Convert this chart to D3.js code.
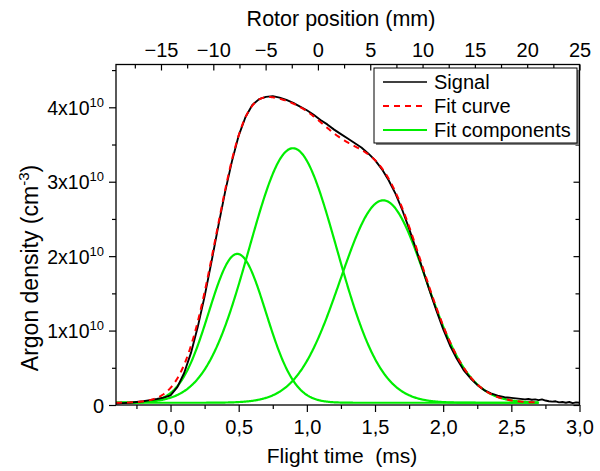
<!DOCTYPE html>
<html>
<head>
<meta charset="utf-8">
<script src="https://cdn.jsdelivr.net/npm/d3@7"></script>
<style>
  body { margin: 0; background: #fff; }
  text { font-family: "Liberation Sans", Arial, sans-serif; fill: #000; }
</style>
</head>
<body>
<svg id="chart" width="600" height="471"></svg>
<script>
// Measured argon density (units of 1e10 cm^-3) against flight time (ms)
const signalTime = [
  -0.40, -0.35, -0.30, -0.25, -0.20, -0.15, -0.10, -0.05, 0.00, 0.05,
  0.10, 0.15, 0.20, 0.25, 0.30, 0.35, 0.40, 0.45, 0.50, 0.55,
  0.60, 0.65, 0.70, 0.75, 0.80, 0.85, 0.90, 0.95, 1.00, 1.05,
  1.10, 1.15, 1.20, 1.25, 1.30, 1.35, 1.40, 1.45, 1.50, 1.55,
  1.60, 1.65, 1.70, 1.75, 1.80, 1.85, 1.90, 1.95, 2.00, 2.05,
  2.10, 2.15, 2.20, 2.25, 2.30, 2.35, 2.40, 2.45, 2.50, 2.55,
  2.60, 2.625, 2.65, 2.675, 2.70, 2.725, 2.75, 2.775, 2.80, 2.825,
  2.85, 2.875, 2.90, 2.925, 2.95, 2.975, 3.00
];
const signalDensity = [
  0.02, 0.025, 0.03, 0.04, 0.05, 0.065, 0.08, 0.10, 0.13, 0.24,
  0.43, 0.70, 1.05, 1.46, 1.92, 2.40, 2.86, 3.27, 3.62, 3.87,
  4.03, 4.11, 4.14, 4.15, 4.13, 4.10, 4.06, 4.01, 3.96, 3.90,
  3.83, 3.77, 3.70, 3.64, 3.58, 3.52, 3.46, 3.38, 3.29, 3.17,
  3.02, 2.84, 2.62, 2.37, 2.10, 1.82, 1.54, 1.27, 1.02, 0.80,
  0.62, 0.47, 0.36, 0.27, 0.20, 0.155, 0.125, 0.105, 0.095, 0.085,
  0.075, 0.08, 0.07, 0.075, 0.065, 0.075, 0.06, 0.05, 0.045, 0.05,
  0.035, 0.04, 0.03, 0.04, 0.025, 0.035, 0.03
];

// Gaussian fit: constant offset plus three components
const fitOffset = 0.03;
const peakCenters = [0.49, 0.898, 1.56];
const peakWidths = [0.21, 0.321, 0.315];
const peakHeights = [2.0, 3.42, 2.72];
const fitRange = [-0.4, 2.7];

const timeTicks = [0, 0.5, 1.0, 1.5, 2.0, 2.5, 3.0];
const timeMinorTicks = [-0.25, 0.25, 0.75, 1.25, 1.75, 2.25, 2.75];
const densityTicks = [0, 1, 2, 3, 4];
const densityMinorTicks = [0.5, 1.5, 2.5, 3.5, 4.5];
const rotorTicks = [-15, -10, -5, 0, 5, 10, 15, 20, 25];
const rotorMinorTicks = [-17.5, -12.5, -7.5, -2.5, 2.5, 7.5, 12.5, 17.5, 22.5];
const legendLabels = ["Signal", "Fit curve", "Fit components"];

const svg = d3.select("#chart");
const plot = { left: 116, right: 579.5, top: 64.5, bottom: 405 };

const x = d3.scaleLinear().domain([-0.4, 3.0]).range([plot.left, plot.right]);
const xTop = d3.scaleLinear().domain([-19.3, 25]).range([plot.left, plot.right]);
const y = d3.scaleLinear().domain([0, 4.575]).range([plot.bottom, plot.top]);

const green = "#00ee00";
const gauss = (t, i) => peakHeights[i] * Math.exp(-((t - peakCenters[i]) ** 2) / (2 * peakWidths[i] ** 2));
const grid = d3.range(fitRange[0], fitRange[1] + 1e-9, 0.005);

svg.append("clipPath").attr("id", "plotClip").append("rect")
  .attr("x", plot.left).attr("y", plot.top)
  .attr("width", plot.right - plot.left).attr("height", plot.bottom - plot.top);

const curves = svg.append("g").attr("clip-path", "url(#plotClip)");
const line = d3.line().x(d => x(d[0])).y(d => y(d[1]));

// fit components
peakCenters.forEach((c, i) => {
  curves.append("path")
    .datum(grid.map(t => [t, fitOffset + gauss(t, i)]))
    .attr("fill", "none").attr("stroke", green).attr("stroke-width", 2.2)
    .attr("d", line);
});

// measured signal
curves.append("path")
  .datum(signalTime.map((t, i) => [t, signalDensity[i]]))
  .attr("fill", "none").attr("stroke", "#000").attr("stroke-width", 1.9)
  .attr("stroke-linejoin", "round")
  .attr("d", line);

// total fit
curves.append("path")
  .datum(grid.map(t => [t, fitOffset + peakCenters.reduce((s, c, i) => s + gauss(t, i), 0)]))
  .attr("fill", "none").attr("stroke", "#ff0000").attr("stroke-width", 2)
  .attr("stroke-dasharray", "6,5")
  .attr("d", line);

// axes
const fmtTime = d => d3.format(".1f")(d).replace(".", ",");
const axisStyle = g => {
  g.select(".domain").remove();
  g.selectAll("line").attr("stroke", "#000").attr("stroke-width", 1.2);
  g.selectAll("text").style("font-size", "20px").attr("fill", "#000");
};

// bottom
svg.append("g").attr("transform", `translate(0,${plot.bottom})`)
  .call(d3.axisBottom(x).tickValues(timeMinorTicks).tickSize(4).tickFormat(""))
  .call(axisStyle);
svg.append("g").attr("transform", `translate(0,${plot.bottom})`)
  .call(d3.axisBottom(x).tickValues(timeTicks).tickSize(7).tickPadding(8).tickFormat(fmtTime))
  .call(axisStyle);

// top (rotor position), ticks pointing inward
svg.append("g").attr("transform", `translate(0,${plot.top})`)
  .call(d3.axisBottom(xTop).tickValues(rotorMinorTicks).tickSize(4).tickFormat(""))
  .call(axisStyle);
svg.append("g").attr("transform", `translate(0,${plot.top})`)
  .call(d3.axisBottom(xTop).tickValues(rotorTicks).tickSize(6).tickFormat(""))
  .call(axisStyle);
svg.append("g").attr("transform", `translate(0,${plot.top})`)
  .call(d3.axisTop(xTop).tickValues(rotorTicks).tickSize(0).tickPadding(8).tickFormat(d3.format("d")))
  .call(axisStyle);

// left
svg.append("g").attr("transform", `translate(${plot.left},0)`)
  .call(d3.axisLeft(y).tickValues(densityMinorTicks).tickSize(4).tickFormat(""))
  .call(axisStyle);
const yAxis = svg.append("g").attr("transform", `translate(${plot.left},0)`)
  .call(d3.axisLeft(y).tickValues(densityTicks).tickSize(7).tickFormat(""))
  .call(axisStyle);
yAxis.selectAll(".tick").each(function (d) {
  const t = d3.select(this).select("text").attr("x", -12).attr("dy", "0.36em");
  if (d === 0) {
    t.style("font-size", "20px").text("0");
  } else {
    t.style("font-size", "19.5px");
    t.append("tspan").text(d + "x10");
    t.append("tspan").attr("dy", "-8").style("font-size", "13px").text("10");
  }
});

// right, ticks pointing inward
svg.append("g").attr("transform", `translate(${plot.right},0)`)
  .call(d3.axisLeft(y).tickValues(densityMinorTicks).tickSize(4).tickFormat(""))
  .call(axisStyle);
svg.append("g").attr("transform", `translate(${plot.right},0)`)
  .call(d3.axisLeft(y).tickValues(densityTicks).tickSize(6).tickFormat(""))
  .call(axisStyle);

// frame
svg.append("rect")
  .attr("x", plot.left).attr("y", plot.top)
  .attr("width", plot.right - plot.left).attr("height", plot.bottom - plot.top)
  .attr("fill", "none").attr("stroke", "#000").attr("stroke-width", 1.3);

// axis titles
svg.append("text").attr("x", 342).attr("y", 463).attr("text-anchor", "middle")
  .style("font-size", "21px").style("white-space", "pre").text("Flight time  (ms)");
svg.append("text").attr("x", 341).attr("y", 26).attr("text-anchor", "middle")
  .style("font-size", "21.5px").text("Rotor position (mm)");
const yTitle = svg.append("text")
  .attr("transform", "translate(38,268) rotate(-90)")
  .attr("text-anchor", "middle").style("font-size", "23px");
yTitle.append("tspan").text("Argon density (cm");
yTitle.append("tspan").attr("dy", "-9").style("font-size", "15px").text("-3");
yTitle.append("tspan").attr("dy", "9").text(")");

// legend
const lg = svg.append("g").attr("transform", "translate(374,68)");
lg.append("rect").attr("x", 2).attr("y", 2).attr("width", 203).attr("height", 75)
  .attr("fill", "#808080");
lg.append("rect").attr("x", 0).attr("y", 0).attr("width", 203).attr("height", 75)
  .attr("fill", "#fff").attr("stroke", "#000").attr("stroke-width", 1);
const legendStyles = [
  { stroke: "#000", width: 1.3, dash: null },
  { stroke: "#ff0000", width: 2, dash: "6,5" },
  { stroke: green, width: 2, dash: null }
];
legendLabels.forEach((label, i) => {
  const yy = 14 + i * 24;
  lg.append("line").attr("x1", 9).attr("x2", 53).attr("y1", yy).attr("y2", yy)
    .attr("stroke", legendStyles[i].stroke).attr("stroke-width", legendStyles[i].width)
    .attr("stroke-dasharray", legendStyles[i].dash);
  lg.append("text").attr("x", 60).attr("y", yy).attr("dy", "0.35em")
    .style("font-size", "20px").text(label);
});
</script>
</body>
</html>
